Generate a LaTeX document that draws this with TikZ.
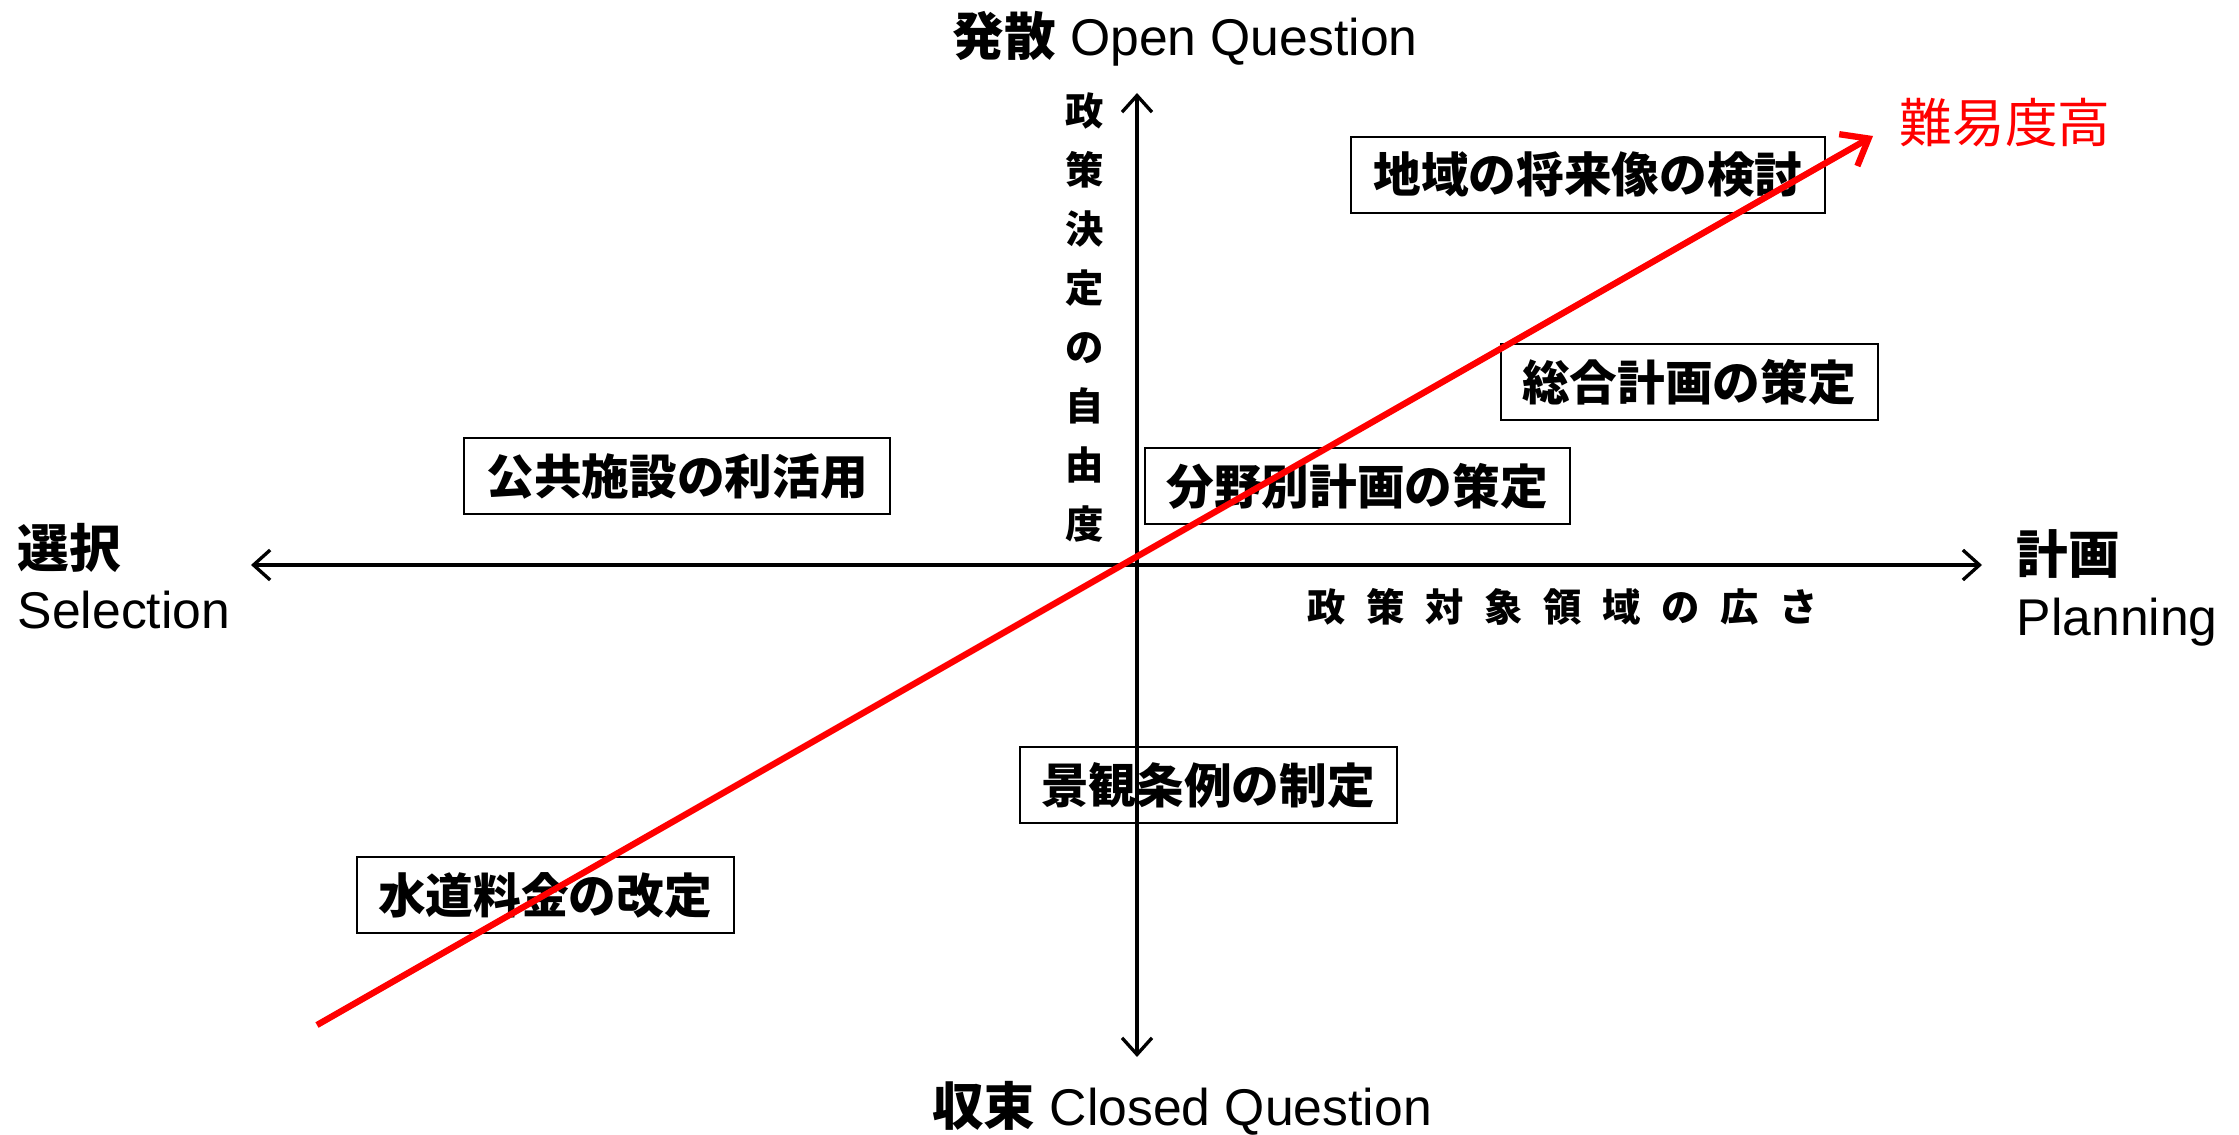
\documentclass[tikz,border=0pt]{standalone}
\usepackage{fontspec}
\setmainfont{Liberation Sans}
\newfontfamily\cjk{Noto Sans CJK JP}
\usetikzlibrary{arrows.meta}
\tikzset{
  axis/.style={line width=1pt, {Straight Barb[length=5pt,width=9pt,line width=1pt]}-{Straight Barb[length=5pt,width=9pt,line width=1pt]}},
  diff/.style={draw=red, line width=1.9pt, -{Straight Barb[length=7pt,width=11pt,line width=1.9pt]}},
  itembox/.style={draw, line width=0.6pt, minimum height=22.8pt, inner sep=0pt, font=\cjk\bfseries\fontsize{14.3}{16}\selectfont},
  title/.style={font=\fontsize{15.5}{18}\selectfont, inner sep=0pt},
  sidelabel/.style={font=\fontsize{15.5}{18.5}\selectfont, inner sep=0pt, align=left, anchor=west},
  axlabel/.style={font=\cjk\bfseries\fontsize{11.5}{17.7}\selectfont, inner sep=0pt}
}
\begin{document}
\begin{tikzpicture}[x=0.3pt,y=-0.3pt]
\useasboundingbox (0,0) rectangle (2239,1135);
% boxes
\node[itembox, minimum width=142.2pt] (b1) at (1588,175) {地域の将来像の検討};
\node[itembox, minimum width=113.1pt] (b2) at (1689,382) {総合計画の策定};
\node[itembox, minimum width=127.8pt] (b3) at (677,476) {公共施設の利活用};
\node[itembox, minimum width=127.5pt] (b4) at (1357,486) {分野別計画の策定};
\node[itembox, minimum width=113.1pt] (b5) at (1208,785) {景観条例の制定};
\node[itembox, minimum width=113.1pt] (b6) at (545,895) {水道料金の改定};
% axes
\coordinate (L) at (251,565);
\coordinate (R) at (1982,565);
\coordinate (T) at (1137,93);
\coordinate (B) at (1137,1057);
\draw[axis] (L) -- (R);
\draw[axis] (B) -- (T);
% red difficulty line
\coordinate (rs) at (317,1025);
\coordinate (re) at (1873,136);
\draw[diff] (rs) -- (re);
\node[text=red, font=\cjk\fontsize{15.8}{18}\selectfont, inner sep=0pt] (diffl) at (2005,123) {難易度高};
% titles
\node[title] (top) at (1185,39) {{\cjk\bfseries 発散} Open Question};
\node[title] (bot) at (1182,1108) {{\cjk\bfseries 収束} Closed Question};
\node[sidelabel] (sel) at (17,576) {{\cjk\bfseries 選択}\\Selection};
\node[sidelabel] (plan) at (2016,588) {{\cjk\bfseries 計画}\\Planning};
% axis descriptions
\node[axlabel, align=center] (vlab) at (1085,317) {政\\策\\決\\定\\の\\自\\由\\度};
\node[axlabel] (hlab) at (1563,607) {政\hspace{6.2pt}策\hspace{6.2pt}対\hspace{6.2pt}象\hspace{6.2pt}領\hspace{6.2pt}域\hspace{6.2pt}の\hspace{6.2pt}広\hspace{6.2pt}さ};
\end{tikzpicture}
\end{document}
